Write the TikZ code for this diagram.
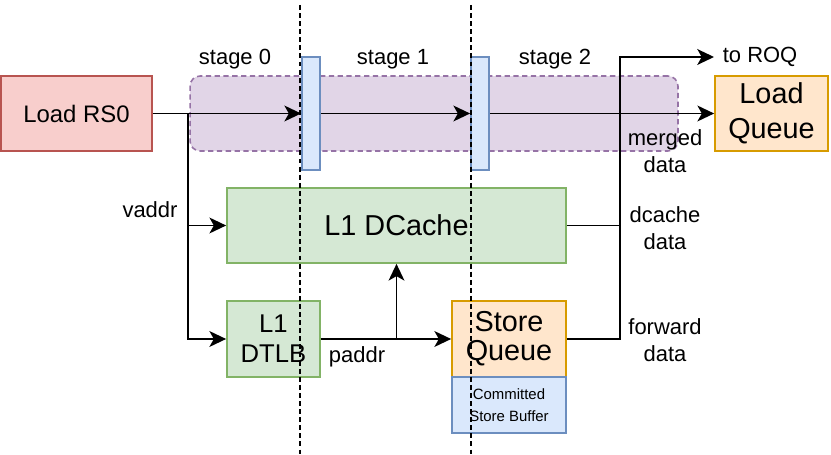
\documentclass[tikz,border=0pt]{standalone}
\usepackage{fontspec}
\setmainfont{Liberation Sans}
\usetikzlibrary{arrows.meta}

\definecolor{rsfill}{HTML}{F8CECC}
\definecolor{rsline}{HTML}{B85450}
\definecolor{bandfill}{HTML}{E1D5E7}
\definecolor{bandline}{HTML}{9673A6}
\definecolor{regfill}{HTML}{DAE8FC}
\definecolor{regline}{HTML}{6C8EBF}
\definecolor{cachefill}{HTML}{D5E8D4}
\definecolor{cacheline}{HTML}{82B366}
\definecolor{qfill}{HTML}{FFE6CC}
\definecolor{qline}{HTML}{D79B00}

\tikzset{
  box/.style={draw, line width=1pt, inner sep=0pt, align=center},
  rsbox/.style={box, fill=rsfill, draw=rsline},
  regbox/.style={box, fill=regfill, draw=regline, minimum width=0.36cm, minimum height=2.26cm},
  cachebox/.style={box, fill=cachefill, draw=cacheline},
  qbox/.style={box, fill=qfill, draw=qline},
  bufbox/.style={box, fill=regfill, draw=regline},
  lbl/.style={align=center, inner sep=0pt, font=\fontsize{12.5}{15.3}\selectfont},
  wire/.style={line width=1.05pt},
  arr/.style={wire, -{Stealth[length=9.5pt, width=9pt, inset=2.5pt]}},
  cut/.style={line width=1pt, dash pattern=on 2.8pt off 1.8pt}
}

\begin{document}
\begin{tikzpicture}[x=0.02cm, y=-0.02cm]
  \useasboundingbox (0,0) rectangle (831,455);

  % pipeline band
  \node[draw=bandline, fill=bandfill, line width=0.9pt, dash pattern=on 3pt off 2pt,
        rounded corners=0.2cm, minimum width=9.76cm, minimum height=1.5cm] (band) at (434,113.5) {};

  % stage labels
  \node[lbl] (st0) at (235,59) {stage 0};
  \node[lbl] (st1) at (393,59) {stage 1};
  \node[lbl] (st2) at (555,59) {stage 2};

  % blocks
  \node[rsbox, minimum width=3.02cm, minimum height=1.5cm, font=\fontsize{13.6}{16}\selectfont] (rs0) at (76.5,113.5) {Load RS0};
  \node[qbox, minimum width=2.26cm, minimum height=1.5cm, font=\fontsize{16.4}{19.6}\selectfont] (lq) at (771.5,113.5) {Load\\Queue};
  \node[regbox] (reg0) at (311,113.5) {};
  \node[regbox] (reg1) at (480,113.5) {};
  \node[cachebox, minimum width=6.78cm, minimum height=1.5cm, font=\fontsize{16.4}{19}\selectfont] (dcache) at (396.5,225.5) {L1 DCache};
  \node[cachebox, minimum width=1.86cm, minimum height=1.52cm, font=\fontsize{14.6}{17}\selectfont] (dtlb) at (273.5,339) {L1\\DTLB};
  \node[qbox, minimum width=2.28cm, minimum height=1.52cm, font=\fontsize{16.4}{16.4}\selectfont] (sq) at (509,339) {\raisebox{-2pt}{\parbox{2.2cm}{\centering Store\\Queue}}};
  \node[bufbox, minimum width=2.28cm, minimum height=1.12cm, font=\fontsize{8.5}{12.3}\selectfont] (csb) at (509,405) {Committed\\Store Buffer};

  % wires
  \coordinate (vsplit) at (188,113.5);
  \coordinate (psplit) at (396.5,339);
  \coordinate (bustop) at (620,57);
  \node[lbl, anchor=west, inner xsep=0.17cm] (roq) at (714,57) {to ROQ};

  \draw[arr] (rs0.east) -- (reg0.west);
  \draw[arr] (reg0.east) -- (reg1.west);
  \draw[arr] (reg1.east) -- (lq.west);
  \draw[arr] (vsplit) |- (dcache.west);
  \draw[arr] (vsplit) |- (dtlb.west);
  \draw[arr] (dtlb.east) -- (sq.west);
  \draw[arr] (psplit) -- (dcache.south);
  \draw[wire] (dcache.east) -- (dcache.east -| bustop);
  \draw[arr] (sq.east) -| (bustop) -- (roq.west);

  % wire labels
  \node[lbl] (vaddr) at (150,210) {vaddr};
  \node[lbl] (paddr) at (357,357) {paddr};
  \node[lbl] (merged) at (665,151) {merged\\data};
  \node[lbl] (dcdata) at (665,228) {dcache\\data};
  \node[lbl] (fwdata) at (665,340) {forward\\data};

  % stage boundaries
  \draw[cut] (300,5) -- (300,455);
  \draw[cut] (471,5) -- (471,455);
\end{tikzpicture}
\end{document}
